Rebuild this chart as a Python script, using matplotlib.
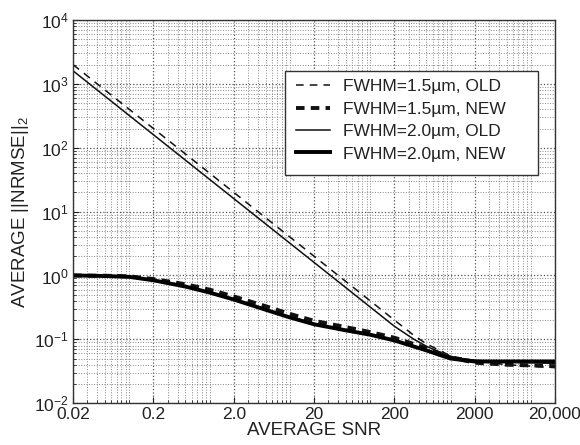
import numpy as np
import matplotlib
matplotlib.use('Agg')
import matplotlib.pyplot as plt
from matplotlib.patches import Rectangle
from matplotlib.ticker import FixedLocator, FixedFormatter, LogLocator, NullFormatter

plt.rcParams['font.family'] = ['Liberation Sans', 'DejaVu Sans']
plt.rcParams['mathtext.fontset'] = 'custom'
plt.rcParams['mathtext.rm'] = 'Liberation Sans'
plt.rcParams['mathtext.it'] = 'Liberation Sans:italic'

# SNR values (x)
snr_old = [0.02, 0.2, 2.0, 20, 200, 350, 500, 1000, 2000, 5000, 20000]
snr_new = [0.02, 0.05, 0.1, 0.2, 0.5, 1, 2, 5, 10, 20, 50, 100, 200, 500, 1000, 2000, 5000, 20000]

# OLD method errors
old_15 = [2000, 200, 20, 2.0, 0.2, 0.115, 0.085, 0.055, 0.046, 0.040, 0.036]
old_20 = [1600, 160, 16, 1.6, 0.16, 0.10, 0.078, 0.053, 0.047, 0.044, 0.042]

# NEW method errors
new_15 = [1.0, 0.99, 0.97, 0.88, 0.73, 0.60, 0.47, 0.33, 0.25, 0.195, 0.155, 0.13, 0.106,
          0.073, 0.052, 0.043, 0.040, 0.038]
new_20 = [1.0, 0.98, 0.95, 0.84, 0.67, 0.54, 0.42, 0.29, 0.22, 0.172, 0.138, 0.118, 0.096,
          0.067, 0.05, 0.045, 0.045, 0.045]

labels = ['FWHM=1.5\u00b5m, OLD', 'FWHM=1.5\u00b5m, NEW',
          'FWHM=2.0\u00b5m, OLD', 'FWHM=2.0\u00b5m, NEW']

xticks = [0.02, 0.2, 2.0, 20, 200, 2000, 20000]
xticklabels = ['0.02', '0.2', '2.0', '20', '200', '2000', '20,000']

txt = '#222222'

fig = plt.figure(figsize=(5.8, 4.45), dpi=100)
ax = fig.add_axes([0.126, 0.094, 0.831, 0.861])

ax.plot(snr_old, old_15, color='#111111', linestyle=(0, (5, 4)), linewidth=1.1, label=labels[0])
ax.plot(snr_new, new_15, color='#111111', linestyle=(0, (2.2, 1.6)), linewidth=2.8, label=labels[1])
ax.plot(snr_old, old_20, color='#111111', linestyle='-', linewidth=1.1, label=labels[2])
ax.plot(snr_new, new_20, color='#000000', linestyle='-', linewidth=2.8, label=labels[3])

ax.set_xscale('log')
ax.set_yscale('log')
ax.set_xlim(0.02, 20000)
ax.set_ylim(1e-2, 1e4)

ax.xaxis.set_major_locator(FixedLocator(xticks))
ax.xaxis.set_major_formatter(FixedFormatter(xticklabels))
ax.xaxis.set_minor_locator(LogLocator(base=10, subs=np.arange(1, 10), numticks=80))
ax.xaxis.set_minor_formatter(NullFormatter())
ax.yaxis.set_minor_locator(LogLocator(base=10, subs=np.arange(2, 10), numticks=80))
ax.yaxis.set_minor_formatter(NullFormatter())

ax.grid(True, which='major', linestyle=':', color='#555555', linewidth=0.9)
ax.grid(True, which='minor', linestyle=':', color='#888888', linewidth=0.7)

ax.tick_params(which='both', direction='in', colors=txt, labelsize=12.5)
ax.tick_params(which='major', length=4, pad=3)
ax.tick_params(which='minor', length=2)
for s in ax.spines.values():
    s.set_color('#333333')
    s.set_linewidth(1.0)

ax.set_xlabel('AVERAGE SNR', fontsize=13.5, color=txt, labelpad=0)
ax.set_ylabel('AVERAGE ||NRMSE||$_2$', fontsize=13.5, color=txt, labelpad=2)

# legend box (wider than its contents, as in the original)
box = Rectangle((0.44, 0.595), 0.525, 0.272, transform=ax.transAxes,
                facecolor='white', edgecolor='#333333', linewidth=1.0, zorder=4)
ax.add_patch(box)

leg = ax.legend(loc='upper left', bbox_to_anchor=(0.462, 0.846), borderaxespad=0,
                fontsize=12.5, handlelength=2.0, handletextpad=0.7, labelspacing=0.42,
                frameon=False, borderpad=0)
leg.set_zorder(5)
for t in leg.get_texts():
    t.set_color(txt)

fig.savefig('out.png', dpi=100)
